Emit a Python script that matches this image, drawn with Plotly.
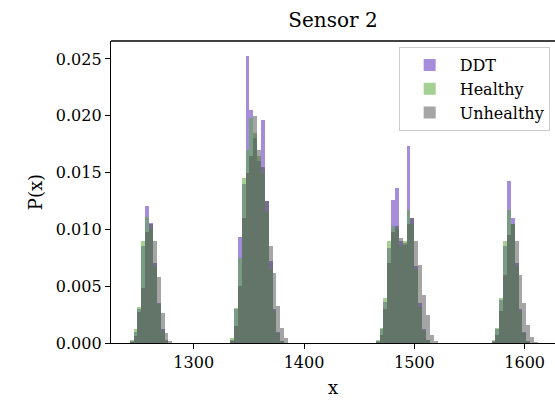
import plotly.graph_objects as go

# ---- data ----
bin_width = 3.5

c1 = [1243.75, 1247.25, 1250.75, 1254.25, 1257.75, 1261.25, 1264.75, 1268.25, 1271.75, 1275.25, 1278.75]
c1_ddt = [0.0002, 0.0010, 0.0030, 0.0085, 0.0121, 0.0106, 0.0070, 0.0035, 0.0012, 0.0003, 0.0]
c1_healthy = [0.0003, 0.0012, 0.0032, 0.0090, 0.0111, 0.0100, 0.0068, 0.0034, 0.0011, 0.0002, 0.0]
c1_unhealthy = [0.0001, 0.0006, 0.0027, 0.0048, 0.0098, 0.0105, 0.0090, 0.0058, 0.0026, 0.0009, 0.0002]

c2 = [1334.75, 1338.25, 1341.75, 1345.25, 1348.75, 1352.25, 1355.75, 1359.25, 1362.75, 1366.25,
      1369.75, 1373.25, 1376.75, 1380.25, 1383.75]
c2_ddt = [0.0003, 0.0030, 0.0093, 0.0140, 0.0253, 0.0205, 0.0180, 0.0160, 0.0196, 0.0125,
          0.0072, 0.0030, 0.0010, 0.0002, 0.0]
c2_healthy = [0.0004, 0.0031, 0.0075, 0.0145, 0.0170, 0.0198, 0.0185, 0.0165, 0.0150, 0.0115,
              0.0065, 0.0028, 0.0009, 0.0002, 0.0]
c2_unhealthy = [0.0002, 0.0015, 0.0050, 0.0110, 0.0150, 0.0165, 0.0200, 0.0170, 0.0155, 0.0125,
                0.0085, 0.0062, 0.0033, 0.0013, 0.0004]

c3 = [1466.75, 1470.25, 1473.75, 1477.25, 1480.75, 1484.25, 1487.75, 1491.25, 1494.75, 1498.25,
      1501.75, 1505.25, 1508.75, 1512.25, 1515.75, 1519.25]
c3_ddt = [0.0002, 0.0012, 0.0036, 0.0084, 0.0126, 0.0136, 0.0090, 0.0086, 0.0173, 0.0110,
          0.0068, 0.0035, 0.0012, 0.0003, 0.0, 0.0]
c3_healthy = [0.0003, 0.0013, 0.0040, 0.0090, 0.0103, 0.0100, 0.0085, 0.0090, 0.0117, 0.0105,
              0.0065, 0.0032, 0.0011, 0.0003, 0.0, 0.0]
c3_unhealthy = [0.0001, 0.0007, 0.0030, 0.0070, 0.0098, 0.0103, 0.0092, 0.0088, 0.0105, 0.0110,
                0.0090, 0.0069, 0.0042, 0.0025, 0.0007, 0.0002]

c4 = [1571.75, 1575.25, 1578.75, 1582.25, 1585.75, 1589.25, 1592.75, 1596.25, 1599.75, 1603.25,
      1606.75, 1610.25]
c4_ddt = [0.0002, 0.0012, 0.0038, 0.0085, 0.0143, 0.0110, 0.0070, 0.0030, 0.0010, 0.0002, 0.0, 0.0]
c4_healthy = [0.0003, 0.0013, 0.0040, 0.0090, 0.0117, 0.0105, 0.0068, 0.0028, 0.0009, 0.0002, 0.0, 0.0]
c4_unhealthy = [0.0001, 0.0007, 0.0028, 0.0060, 0.0095, 0.0105, 0.0090, 0.0060, 0.0035, 0.0016, 0.0005, 0.0001]

x_ticks = [1300, 1400, 1500, 1600]
y_ticks = [0.000, 0.005, 0.010, 0.015, 0.020, 0.025]

centers = c1 + c2 + c3 + c4
series = [
    ("DDT", c1_ddt + c2_ddt + c3_ddt + c4_ddt, "rgba(105,65,195,0.6)"),
    ("Healthy", c1_healthy + c2_healthy + c3_healthy + c4_healthy, "rgba(90,170,60,0.55)"),
    ("Unhealthy", c1_unhealthy + c2_unhealthy + c3_unhealthy + c4_unhealthy, "rgba(75,75,75,0.5)"),
]

font_family = "DejaVu Serif, Liberation Serif, serif"

fig = go.Figure()
for name, vals, col in series:
    fig.add_trace(go.Bar(
        x=centers, y=vals, width=bin_width, name=name,
        marker=dict(color=col, line=dict(width=0)),
    ))

fig.update_layout(
    barmode="overlay",
    width=555, height=412,
    margin=dict(l=111, r=0, t=41, b=69),
    paper_bgcolor="white", plot_bgcolor="white",
    font=dict(family=font_family, size=16, color="black"),
    title=dict(text="Sensor 2", x=0.5, xanchor="center", xref="paper",
               y=1 - 20 / 412, yanchor="middle", font=dict(size=20)),
    showlegend=True,
    legend=dict(x=0.988, xanchor="right", y=0.98, yanchor="top",
                bgcolor="rgba(255,255,255,0.85)", bordercolor="#cccccc", borderwidth=1,
                font=dict(size=16), tracegroupgap=0, itemwidth=50,
                entrywidth=0),
    bargap=0,
)
fig.update_xaxes(
    range=[1225, 1627.5], tickvals=x_ticks, ticktext=[str(t) for t in x_ticks],
    showline=True, linecolor="black", linewidth=1.3, mirror=False,
    ticks="outside", ticklen=5, tickwidth=1.2, tickcolor="black",
    showgrid=False, zeroline=False, tickfont=dict(size=16),
    title=dict(text="x", font=dict(size=18), standoff=10),
)
fig.update_yaxes(
    range=[0, 0.02658], tickvals=y_ticks, tickformat=".3f",
    showline=True, linecolor="black", linewidth=1.3,
    ticks="outside", ticklen=5, tickwidth=1.2, tickcolor="black",
    showgrid=False, zeroline=False, tickfont=dict(size=16),
    title=dict(text="P(x)", font=dict(size=18), standoff=8),
)
# top spine
fig.add_shape(type="line", xref="paper", yref="paper", x0=0, x1=1, y0=1, y1=1,
              line=dict(color="black", width=1.3))

fig.write_html("out.html")
